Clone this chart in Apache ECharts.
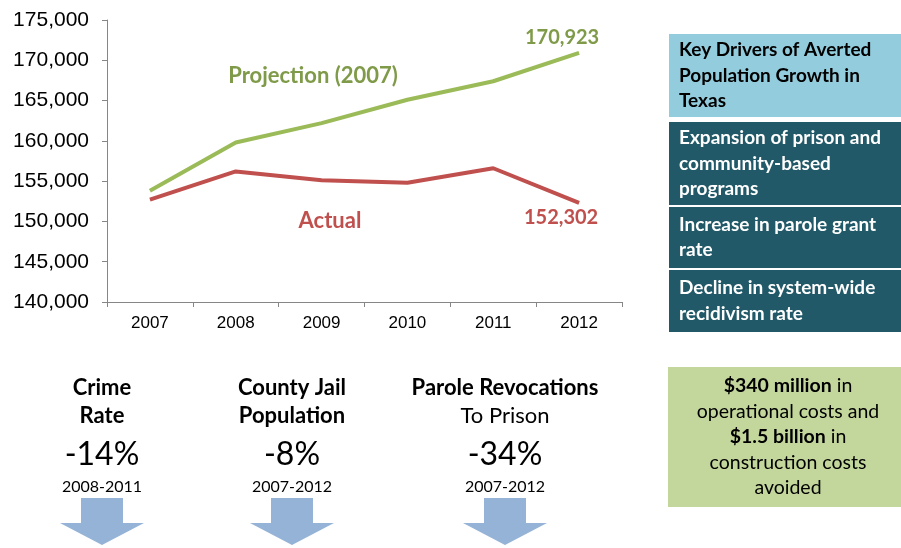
<!DOCTYPE html>
<html>
<head>
<meta charset="utf-8">
<script src="https://cdn.jsdelivr.net/npm/echarts@6/dist/echarts.min.js"></script>
<style>
  html, body { margin: 0; padding: 0; background: #fff; }
  #chart { width: 901px; height: 548px; }
</style>
</head>
<body>
<div id="chart"></div>
<script>
// Texas prison population: 2007 projection vs. actual
const years = ['2007', '2008', '2009', '2010', '2011', '2012'];
const projection = [153800, 159800, 162200, 165100, 167400, 170923];
const actual = [152700, 156200, 155100, 154800, 156600, 152302];
const yTicks = { min: 140000, max: 175000, step: 5000 };

const driversTitle = ['Key Drivers of Averted', 'Population Growth in', 'Texas'];
const drivers = [
  ['Expansion of prison and', 'community-based', 'programs'],
  ['Increase in parole grant', 'rate'],
  ['Decline in system-wide', 'recidivism rate']
];
const indicators = [
  { title: ['Crime', 'Rate'], change: '-14%', period: '2008-2011' },
  { title: ['County Jail', 'Population'], change: '-8%', period: '2007-2012' },
  { title: ['Parole Revocations'], sub: 'To Prison', change: '-34%', period: '2007-2012' }
];

const GREEN = '#9bbb59', GREEN_TXT = '#7f9a48';
const RED = '#c0504d';
const CAL = 'Lato, "Open Sans", sans-serif';

// only the final point of each line carries a value label
function lastLabel(values, color, pos, offset) {
  return values.map((v, i) => i === values.length - 1 ? {
    value: v,
    label: {
      show: true, position: pos, offset: offset,
      formatter: p => p.value.toLocaleString('en-US'),
      color: color, fontFamily: CAL, fontWeight: 'bold', fontSize: 20
    }
  } : v);
}

function arrow(cx, top) {
  return {
    type: 'polygon',
    shape: { points: [
      [cx - 21, top], [cx + 21, top], [cx + 21, top + 25], [cx + 42, top + 25],
      [cx, top + 47], [cx - 42, top + 25], [cx - 21, top + 25]
    ] },
    style: { fill: '#95b3d7' }
  };
}

const graphics = [];
// chart annotations
graphics.push({ type: 'text', x: 313, y: 76, style: { text: 'Projection (2007)', fill: GREEN_TXT,
  font: 'bold 22px ' + CAL, textAlign: 'center', textVerticalAlign: 'middle' } });
graphics.push({ type: 'text', x: 330, y: 221, style: { text: 'Actual', fill: RED,
  font: 'bold 22px ' + CAL, textAlign: 'center', textVerticalAlign: 'middle' } });

// drivers panel
const boxes = [
  { y: 34, h: 83, fill: '#93cddd', color: '#000', lines: driversTitle },
  { y: 122, h: 83, fill: '#215968', color: '#fff', lines: drivers[0] },
  { y: 207, h: 61, fill: '#215968', color: '#fff', lines: drivers[1] },
  { y: 270, h: 62, fill: '#215968', color: '#fff', lines: drivers[2] }
];
boxes.forEach(b => {
  graphics.push({ type: 'rect', shape: { x: 669, y: b.y, width: 232, height: b.h }, style: { fill: b.fill } });
  graphics.push({ type: 'text', x: 679, y: b.y + b.h / 2, style: {
    text: b.lines.join('\n'), fill: b.color, font: 'bold 19px ' + CAL, lineHeight: 25.5,
    textAlign: 'left', textVerticalAlign: 'middle' } });
});

// cost savings box
graphics.push({ type: 'rect', shape: { x: 668, y: 367, width: 233, height: 140 }, style: { fill: '#c3d69b' } });
graphics.push({ type: 'text', x: 788, y: 437, style: {
  text: '{b|$340 million} in\noperational costs and\n{b|$1.5 billion} in\nconstruction costs\navoided',
  font: '19.5px ' + CAL, fill: '#000', lineHeight: 25.5, textAlign: 'center', textVerticalAlign: 'middle',
  rich: { b: { font: 'bold 19.5px ' + CAL, fill: '#000', lineHeight: 25.5 } } } });

// indicator columns
const colX = [102, 292, 505];
indicators.forEach((ind, i) => {
  const cx = colX[i];
  const lines = ind.title.map(t => '{b|' + t + '}');
  if (ind.sub) lines.push(ind.sub);
  graphics.push({ type: 'text', x: cx, y: 402, style: {
    text: lines.join('\n'), font: '22px ' + CAL, fill: '#000', lineHeight: 28.5,
    textAlign: 'center', textVerticalAlign: 'middle',
    rich: { b: { font: 'bold 22px ' + CAL, fill: '#000', lineHeight: 28.5 } } } });
  graphics.push({ type: 'text', x: cx, y: 455, style: { text: ind.change, font: '32px ' + CAL,
    fill: '#000', textAlign: 'center', textVerticalAlign: 'middle' } });
  graphics.push({ type: 'text', x: cx, y: 487, style: { text: ind.period, font: '16px ' + CAL,
    fill: '#000', textAlign: 'center', textVerticalAlign: 'middle' } });
  graphics.push(arrow(cx, 498));
});

const chart = echarts.init(document.getElementById('chart'), null, { renderer: 'canvas' });
chart.setOption({
  animation: false,
  backgroundColor: '#fff',
  grid: { left: 107, right: 279, top: 20, bottom: 246, containLabel: false },
  xAxis: {
    type: 'category', data: years, boundaryGap: true,
    axisLine: { lineStyle: { color: '#868686', width: 1 } },
    axisTick: { show: true, length: 5, lineStyle: { color: '#868686' } },
    axisLabel: { color: '#000', fontFamily: 'Liberation Sans, Arial, sans-serif', fontSize: 17, margin: 13 }
  },
  yAxis: {
    type: 'value', min: yTicks.min, max: yTicks.max, interval: yTicks.step,
    axisLine: { show: true, lineStyle: { color: '#868686', width: 1 } },
    axisTick: { show: true, length: 5, lineStyle: { color: '#868686' } },
    splitLine: { show: false },
    axisLabel: { color: '#000', fontFamily: 'Liberation Sans, Arial, sans-serif', fontSize: 21, margin: 18,
      formatter: v => v.toLocaleString('en-US') }
  },
  series: [
    { name: 'Projection (2007)', type: 'line', data: lastLabel(projection, GREEN_TXT, 'top', [-17, 0]),
      symbol: 'circle', symbolSize: 0, showSymbol: true,
      lineStyle: { color: GREEN, width: 4 }, itemStyle: { color: GREEN } },
    { name: 'Actual', type: 'line', data: lastLabel(actual, RED, 'bottom', [-18, 0]),
      symbol: 'circle', symbolSize: 0, showSymbol: true,
      lineStyle: { color: RED, width: 4 }, itemStyle: { color: RED } }
  ],
  graphic: graphics
});
</script>
</body>
</html>
